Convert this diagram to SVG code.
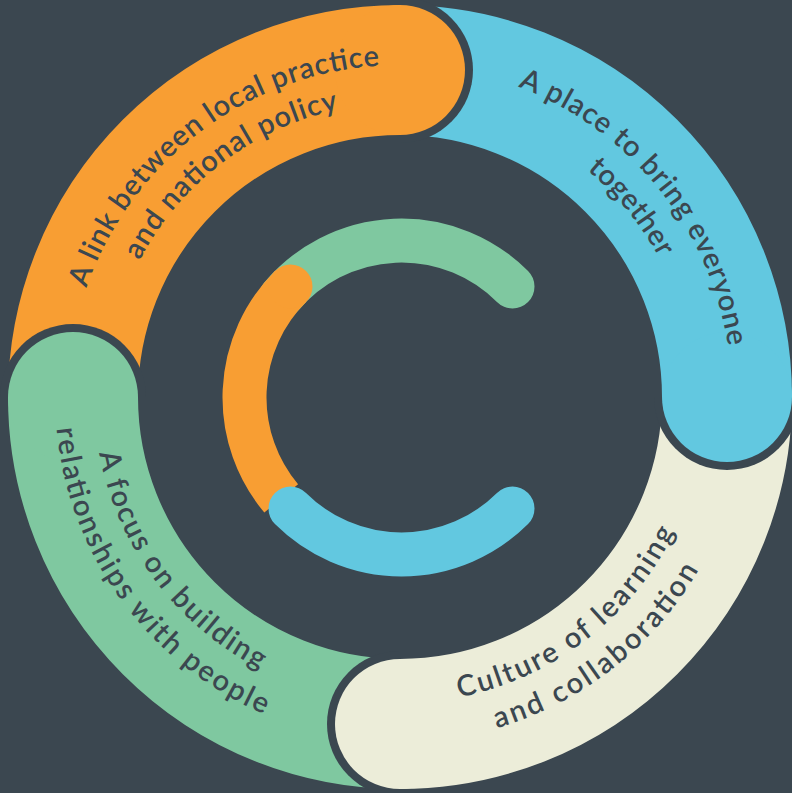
<svg xmlns="http://www.w3.org/2000/svg" xmlns:xlink="http://www.w3.org/1999/xlink" width="792" height="793" viewBox="0 0 792 793">
<style>
.body{fill:none;stroke-width:130;stroke-linecap:butt}
.inner{fill:none;stroke-width:44}
.o{stroke:#f89e33}.b{stroke:#62c8e0}.c{stroke:#ecedd9}.g{stroke:#7fc8a0}
.fo{fill:#f89e33}.fb{fill:#62c8e0}.fc{fill:#ecedd9}.fg{fill:#7fc8a0}
.rim{fill:#3b4750}
.lbl{font-family:Lato,"Liberation Sans",sans-serif;font-size:29px;font-weight:600;fill:#3b4750}
</style>
<defs>
<path id="t332" d="M 73.05 339.35 A 332 332 0 0 1 726.95 339.35"/>
<path id="t294" d="M 110.47 345.95 A 294 294 0 0 1 689.53 345.95"/>
<path id="b306" d="M 98.65 450.14 A 306 306 0 0 0 701.35 450.14"/>
<path id="b345" d="M 60.24 456.91 A 345 345 0 0 0 739.76 456.91"/>
</defs>
<rect width="792" height="793" fill="#3b4750"/>

<g id="node-orange">
<path class="body o" d="M 73 397 A 327 327 0 0 1 400 70"/>
</g>
<g id="node-blue">
<path class="body b" d="M 400 70 A 327 327 0 0 1 727 397"/>
</g>
<g id="node-cream">
<path class="body c" d="M 727 397 A 327 327 0 0 1 400 724"/>
</g>
<g id="node-green">
<path class="body g" d="M 400 724 A 327 327 0 0 1 73 397"/>
</g>

<g id="caps">
<path class="rim" d="M 400 -3 A 73 73 0 0 1 400 143 Z"/>
<circle class="fo" cx="400" cy="70" r="65"/>
<path class="rim" d="M 800 397 A 73 73 0 0 1 654 397 Z"/>
<circle class="fb" cx="727" cy="397" r="65"/>
<path class="rim" d="M 400 797 A 73 73 0 0 1 400 651 Z"/>
<circle class="fc" cx="400" cy="724" r="65"/>
<path class="rim" d="M 0 397 A 73 73 0 0 1 146 397 Z"/>
<circle class="fg" cx="73" cy="397" r="65"/>
</g>

<g id="inner-c">
<path class="inner g" stroke-linecap="round" d="M 281.2 296.6 A 157 157 0 0 1 512.5 286.5"/>
<path class="inner o" stroke-linecap="butt" d="M 290.5 286.5 A 157 157 0 0 0 281.2 498.4"/>
<circle class="fo" cx="290.5" cy="286.5" r="22"/>
<path class="inner b" stroke-linecap="round" d="M 290.5 508.5 A 157 157 0 0 0 512.5 508.5"/>
</g>

<g id="labels" class="lbl">
<g id="label-orange" transform="rotate(-37.2 400 397)">
<text><textPath xlink:href="#t332" href="#t332" startOffset="50%" text-anchor="middle" textLength="390" lengthAdjust="spacing">A link between local practice</textPath></text>
<text><textPath xlink:href="#t294" href="#t294" startOffset="50%" text-anchor="middle" textLength="258" lengthAdjust="spacing">and national policy</textPath></text>
</g>
<g id="label-blue" transform="rotate(51 400 397)">
<text><textPath xlink:href="#t332" href="#t332" startOffset="50%" text-anchor="middle" textLength="350" lengthAdjust="spacing">A place to bring everyone</textPath></text>
<text transform="rotate(-0.4 400 397)"><textPath xlink:href="#t294" href="#t294" startOffset="50%" text-anchor="middle" textLength="114" lengthAdjust="spacing">together</textPath></text>
</g>
<g id="label-cream" transform="rotate(-37.5 400 397)">
<text><textPath xlink:href="#b306" href="#b306" startOffset="50%" text-anchor="middle" textLength="282" lengthAdjust="spacing">Culture of learning</textPath></text>
<text transform="rotate(-0.6 400 397)"><textPath xlink:href="#b345" href="#b345" startOffset="50%" text-anchor="middle" textLength="263" lengthAdjust="spacing">and collaboration</textPath></text>
</g>
<g id="label-green" transform="rotate(53.35 400 397)">
<text><textPath xlink:href="#b306" href="#b306" startOffset="50%" text-anchor="middle" textLength="279" lengthAdjust="spacing">A focus on building</textPath></text>
<text transform="rotate(0.65 400 397)"><textPath xlink:href="#b345" href="#b345" startOffset="50%" text-anchor="middle" textLength="371" lengthAdjust="spacing">relationships with people</textPath></text>
</g>
</g>

<g id="connectors"></g>
</svg>
